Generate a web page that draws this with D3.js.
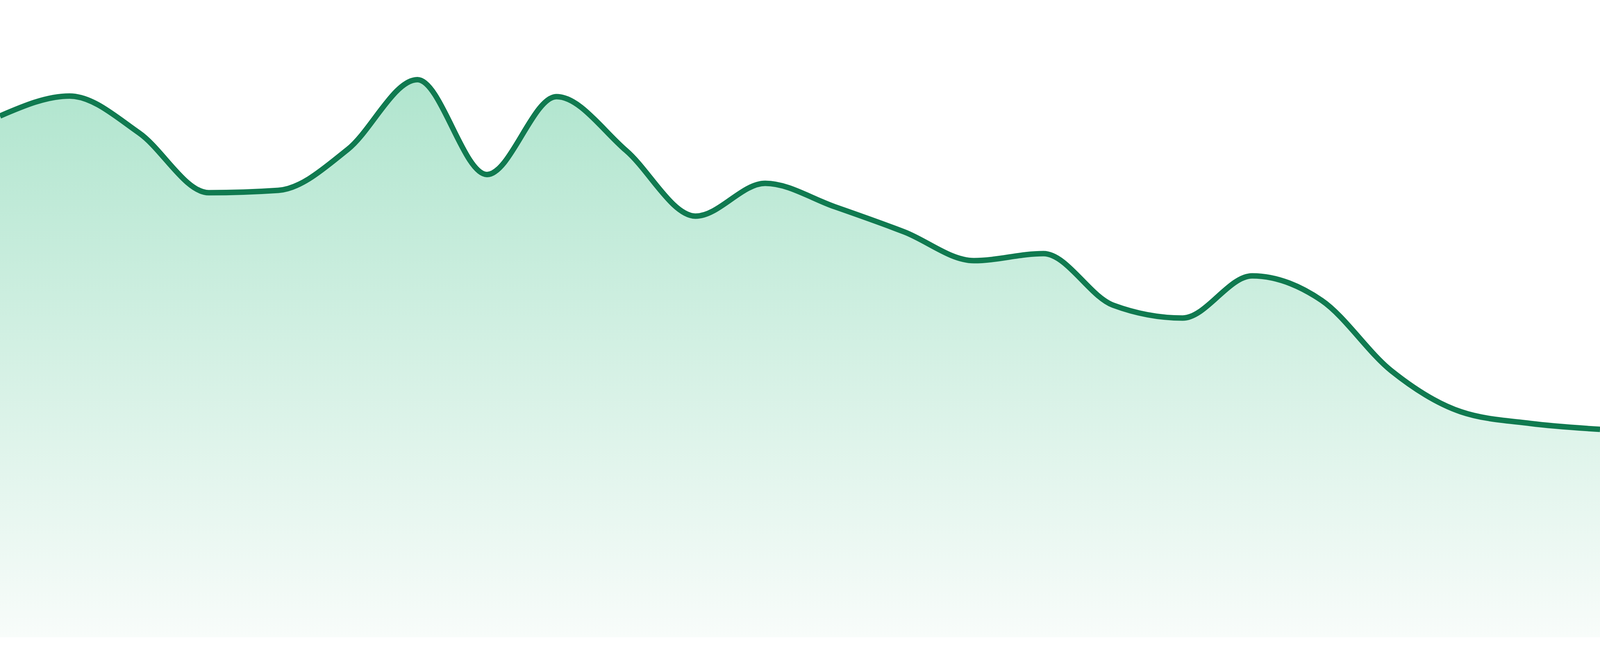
<!DOCTYPE html>
<html lang="en">
<head>
  <meta charset="UTF-8" />
  <title>Area trend</title>
  <script src="https://d3js.org/d3.v7.min.js"></script>
  <style>
    html, body {
      margin: 0;
      padding: 0;
      overflow: hidden;
      background-color: #ffffff;
    }
    svg {
      display: block;
      width: 100vw;
      height: 100vh;
    }
    .area-line {
      fill: none;
      stroke: #107a50;
      stroke-width: 14px;
      stroke-linejoin: round;
    }
  </style>
</head>
<body>
  <svg id="chart"></svg>

  <script>
    const width = 4800;
    const height = 1680;

    // one reading per period, 24 periods
    const periods = d3.range(1, 25);
    const values = [
      89.0, 92.4, 86.1, 75.9, 76.3, 83.3, 95.2, 79.0, 92.3, 83.1, 71.9, 77.5,
      73.5, 69.2, 64.3, 65.5, 56.7, 54.5, 61.7, 57.5, 45.5, 38.5, 36.5, 35.5
    ];
    const yDomain = [0, 100];

    const data = periods.map((p, i) => ({ period: p, value: values[i] }));

    // drawn in a fixed 4800x1680 space, stretched to whatever the window is
    const svg = d3.select("#chart")
      .attr("viewBox", `0 0 ${width} ${height}`)
      .attr("preserveAspectRatio", "none");

    const x = d3.scalePoint()
      .domain(periods)
      .range([0, width]);

    const y = d3.scaleLinear()
      .domain(yDomain)
      .range([1632, 132]);

    // vertical fade under the line
    const grad = svg.append("defs")
      .append("linearGradient")
      .attr("id", "fade")
      .attr("gradientUnits", "userSpaceOnUse")
      .attr("x1", 0).attr("x2", 0)
      .attr("y1", y(d3.max(values)))
      .attr("y2", y(0));
    grad.append("stop").attr("offset", "0%").attr("stop-color", "#b0e5ce");
    grad.append("stop").attr("offset", "100%").attr("stop-color", "#f8fcfa");

    const area = d3.area()
      .x(d => x(d.period))
      .y0(y(0))
      .y1(d => y(d.value))
      .curve(d3.curveMonotoneX);

    const line = d3.line()
      .x(d => x(d.period))
      .y(d => y(d.value))
      .curve(d3.curveMonotoneX);

    svg.append("path")
      .datum(data)
      .attr("fill", "url(#fade)")
      .attr("d", area);

    // keep the stroke width in screen pixels even though the box is stretched
    svg.append("path")
      .datum(data)
      .attr("class", "area-line")
      .attr("vector-effect", "non-scaling-stroke")
      .attr("d", line);
  </script>
</body>
</html>
